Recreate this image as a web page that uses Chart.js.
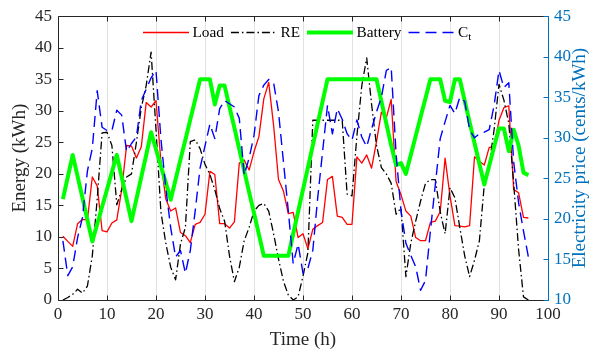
<!DOCTYPE html>
<html>
<head>
<meta charset="utf-8">
<script src="https://cdn.jsdelivr.net/npm/chart.js@4.4.0/dist/chart.umd.min.js"></script>
<style>
  html, body { margin: 0; padding: 0; background: #ffffff; }
  #wrap { width: 594px; height: 352px; }
</style>
</head>
<body>
<div id="wrap"><canvas id="grafico" width="594" height="352"></canvas></div>
<script>
// Hours of the horizon
const hours = [1, 2, 3, 4, 5, 6, 7, 8, 9, 10, 11, 12, 13, 14, 15, 16, 17, 18, 19, 20,
  21, 22, 23, 24, 25, 26, 27, 28, 29, 30, 31, 32, 33, 34, 35, 36, 37, 38, 39, 40,
  41, 42, 43, 44, 45, 46, 47, 48, 49, 50, 51, 52, 53, 54, 55, 56, 57, 58, 59, 60,
  61, 62, 63, 64, 65, 66, 67, 68, 69, 70, 71, 72, 73, 74, 75, 76, 77, 78, 79, 80,
  81, 82, 83, 84, 85, 86, 87, 88, 89, 90, 91, 92, 93, 94, 95, 96];

// Energy series (kWh, left axis)
const load = [10.1, 9.3, 8.5, 12.1, 12.8, 12.7, 19.5, 18.1, 11, 10.8, 12.2, 12.7, 17.5, 24.5, 24.4, 22.5, 24.3, 31.3, 30.6, 31.6,
  22, 16, 14.1, 14.6, 10.7, 10.2, 9.1, 12, 12.3, 13.6, 20.4, 19.9, 12.1, 12.1, 11.4, 12.4, 21.7, 22.2, 20.6, 23.5,
  25.9, 31.9, 34.5, 27.7, 19.1, 17.3, 13.7, 13.9, 9.9, 10.5, 8.1, 11.2, 11.8, 12.3, 19.1, 19.6, 13.3, 13.1, 12, 12,
  22.7, 21.7, 23, 20.9, 25.1, 29.8, 28.9, 31.8, 18.8, 16.7, 14.1, 13.3, 9.9, 9.4, 9.4, 12.3, 12.5, 14, 22.5, 16.5,
  11.8, 11.7, 11.6, 11.8, 22.7, 22, 21.4, 24.2, 24.3, 28.5, 30.5, 30.8, 17.5, 17, 13.1, 13];

const re = [0, 0.4, 0.9, 1.7, 1.1, 2.2, 7, 16, 26.5, 26.6, 24.5, 15.1, 17.5, 19.5, 20, 25, 30.5, 34, 39.3, 27,
  14, 9, 5.2, 3.2, 8.9, 11.5, 25.1, 25.4, 24, 21.5, 19.9, 17.5, 14.5, 12.5, 7, 2.9, 5.2, 9.4, 11.5, 14.1,
  15, 15.3, 14.1, 10.5, 6.5, 3, 0.8, 0, 0.5, 3.8, 7.5, 28.5, 28.5, 28.5, 28.5, 28.5, 28.5, 28.5, 16.8, 16.5,
  26, 34, 38.4, 31, 24.5, 21, 20, 18.5, 13.6, 14.6, 3.7, 9, 12.5, 15.7, 18.5, 19.1, 19.1, 14, 10.5, 17.8,
  16.2, 11.5, 7, 3.7, 6.3, 9.4, 18.3, 21.5, 27, 34.2, 31.7, 28, 18.5, 8, 0.5, 0];

const battery = [16, 19.5, 23, 19.6, 16.2, 12.7, 9.3, 12, 14.8, 17.5, 20.3, 23, 19.5, 16, 12.5, 16, 19.5, 23, 26.6, 23.9,
  21.2, 18.6, 15.9, 19.1, 22.3, 25.4, 28.6, 31.8, 35, 35, 35, 31, 34, 34, 30.6, 27.3, 23.9, 20.5, 17.1, 13.8,
  10.4, 7, 7, 7, 7, 7, 7, 10.5, 14, 17.5, 21, 24.5, 28, 31.5, 35, 35, 35, 35, 35, 35,
  35, 35, 35, 35, 35, 31.5, 28, 24.5, 21.4, 21.7, 20, 23, 26, 29, 32, 35, 35, 35, 31.6, 31.4,
  35, 35, 31.6, 28.2, 24.9, 21.6, 18.3, 21.3, 24.3, 27.2, 27.2, 23.6, 27, 24.5, 20.2, 19.8];

// Electricity price C_t (cents/kWh, right axis)
const price = [17.3, 13, 14.1, 17.7, 20.2, 25.9, 28.7, 35.8, 31.3, 30.9, 30.9, 33.4, 32.8, 28.3, 29.3, 30.1, 34.6, 36, 37.4, 38.3,
  29.9, 23.8, 18.9, 15.3, 16.1, 13.3, 16.1, 21, 26.3, 29, 31.7, 29.9, 33.6, 34.6, 34.2, 33.8, 32.4, 25.4, 27.5, 30.3,
  35.2, 36.5, 37.2, 36.8, 33.2, 27.1, 21, 14.5, 16.9, 13.3, 13.9, 16.1, 22.6, 28.3, 34, 30.5, 33.6, 32.3, 30.5, 29.7,
  32.2, 30.1, 28.9, 31.1, 33.2, 35, 38.3, 38.7, 28, 21, 17, 15.5, 14.1, 11.2, 12.4, 18.5, 24.2, 29.9, 32, 34,
  33, 35, 34.5, 31, 30, 30.5, 30.7, 31, 34, 38.3, 36.2, 36.8, 27, 22, 18.5, 15.3];

const seriesNames = ["Load", "RE", "Battery", "C"];

const FONT = "'Liberation Serif', 'Times New Roman', serif";
const AZUL_EJE = "#0072BD";
const GRIS_EJE = "#262626";

function pares(valores) {
  return hours.map((h, i) => ({ x: h, y: valores[i] }));
}

// Axis box with inward ticks, legend inside the top and the right label read bottom-up
const ejesPlugin = {
  id: "ejes",
  afterDraw(chart) {
    const { ctx, chartArea: a, scales } = chart;
    const px = v => Math.round(v) + 0.5;
    const largo = 5;
    ctx.save();
    ctx.lineWidth = 1;
    ctx.strokeStyle = GRIS_EJE;
    ctx.beginPath();
    ctx.moveTo(px(a.left), px(a.top));
    ctx.lineTo(px(a.right), px(a.top));
    ctx.moveTo(px(a.left), px(a.top));
    ctx.lineTo(px(a.left), px(a.bottom));
    ctx.lineTo(px(a.right), px(a.bottom));
    scales.x.ticks.forEach(t => {
      const x = px(scales.x.getPixelForValue(t.value));
      ctx.moveTo(x, px(a.bottom));
      ctx.lineTo(x, px(a.bottom) - largo);
      ctx.moveTo(x, px(a.top));
      ctx.lineTo(x, px(a.top) + largo);
    });
    scales.y.ticks.forEach(t => {
      const y = px(scales.y.getPixelForValue(t.value));
      ctx.moveTo(px(a.left), y);
      ctx.lineTo(px(a.left) + largo, y);
    });
    ctx.stroke();

    ctx.strokeStyle = AZUL_EJE;
    ctx.beginPath();
    ctx.moveTo(px(a.right), px(a.top));
    ctx.lineTo(px(a.right), px(a.bottom));
    scales.y1.ticks.forEach(t => {
      const y = px(scales.y1.getPixelForValue(t.value));
      ctx.moveTo(px(a.right), y);
      ctx.lineTo(px(a.right) - largo, y);
    });
    ctx.stroke();

    // right axis title
    ctx.fillStyle = AZUL_EJE;
    ctx.font = "normal 19px " + FONT;
    ctx.textAlign = "center";
    ctx.textBaseline = "middle";
    ctx.translate(580, (a.top + a.bottom) / 2);
    ctx.rotate(-Math.PI / 2);
    ctx.fillText("Electricity price (cents/kWh)", 0, 0);
    ctx.restore();

    // legend
    ctx.save();
    const yLey = 32.5;
    let x = 143;
    ctx.font = "normal 15.3px " + FONT;
    ctx.textBaseline = "middle";
    ctx.textAlign = "left";
    chart.data.datasets.forEach(ds => {
      ctx.strokeStyle = ds.borderColor;
      ctx.lineWidth = ds.borderWidth;
      ctx.setLineDash(ds.borderDash || []);
      ctx.beginPath();
      ctx.moveTo(x, yLey);
      ctx.lineTo(x + 46, yLey);
      ctx.stroke();
      ctx.setLineDash([]);
      x += 49.5;
      ctx.fillStyle = "#000000";
      ctx.fillText(ds.label, x, yLey);
      x += ctx.measureText(ds.label).width;
      if (ds.label === "C") {
        ctx.font = "normal 11px " + FONT;
        ctx.fillText("t", x, yLey + 5);
        x += ctx.measureText("t").width;
        ctx.font = "normal 15.3px " + FONT;
      }
      x += 7;
    });
    ctx.restore();
  }
};

const ctx = document.getElementById("grafico").getContext("2d");

new Chart(ctx, {
  type: "line",
  data: {
    datasets: [
      { label: seriesNames[0], data: pares(load), yAxisID: "y", borderColor: "#ff0000", borderWidth: 1.3, order: 4 },
      { label: seriesNames[1], data: pares(re), yAxisID: "y", borderColor: "#000000", borderWidth: 1.3, borderDash: [8, 3, 1.5, 3], order: 3 },
      { label: seriesNames[2], data: pares(battery), yAxisID: "y", borderColor: "#00ff00", borderWidth: 4, order: 2 },
      { label: seriesNames[3], data: pares(price), yAxisID: "y1", borderColor: "#0000ff", borderWidth: 1.4, borderDash: [11, 6], order: 1 }
    ]
  },
  options: {
    responsive: false,
    animation: false,
    devicePixelRatio: 1,
    layout: { padding: { top: 13, left: 0, right: 0, bottom: 0 } },
    elements: {
      point: { radius: 0 },
      line: { tension: 0, fill: false, borderCapStyle: "butt", borderJoinStyle: "round" }
    },
    plugins: {
      legend: { display: false },
      tooltip: { enabled: false }
    },
    scales: {
      x: {
        type: "linear",
        min: 0,
        max: 100,
        ticks: { stepSize: 10, color: GRIS_EJE, font: { family: FONT, size: 17, weight: "normal" }, padding: 4, maxRotation: 0 },
        grid: {
          drawTicks: false,
          lineWidth: 1,
          color: c => (c.tick && (c.tick.value === 0 || c.tick.value === 100)) ? "rgba(0,0,0,0)" : "#e2e2e2"
        },
        border: { display: false },
        title: { display: true, text: "Time (h)", color: GRIS_EJE, font: { family: FONT, size: 19, weight: "normal" }, padding: { top: 0, bottom: 1 } },
        afterFit: s => { s.height = 52; }
      },
      y: {
        position: "left",
        min: 0,
        max: 45,
        ticks: { stepSize: 5, color: GRIS_EJE, font: { family: FONT, size: 17, weight: "normal" }, padding: 6 },
        grid: { display: false, drawTicks: false },
        border: { display: false },
        title: { display: true, text: "Energy (kWh)", color: GRIS_EJE, font: { family: FONT, size: 19, weight: "normal" }, padding: { top: 9, bottom: 0 } },
        afterFit: s => { s.width = 58; }
      },
      y1: {
        position: "right",
        min: 10,
        max: 45,
        ticks: { stepSize: 5, color: AZUL_EJE, font: { family: FONT, size: 17, weight: "normal" }, padding: 6 },
        grid: { display: false, drawTicks: false },
        border: { display: false },
        title: { display: false },
        afterFit: s => { s.width = 46; }
      }
    }
  },
  plugins: [ejesPlugin]
});
</script>
</body>
</html>
